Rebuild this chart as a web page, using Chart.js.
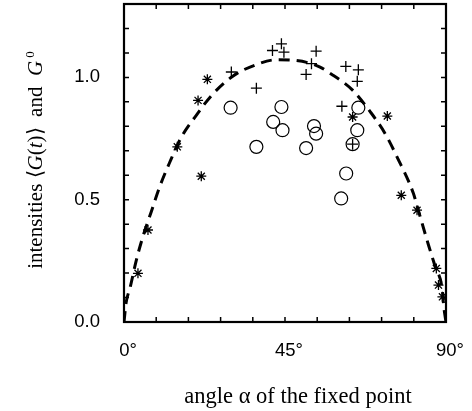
<!DOCTYPE html>
<html>
<head>
<meta charset="utf-8">
<script src="https://cdn.jsdelivr.net/npm/chart.js@4.4.1/dist/chart.umd.min.js"></script>
<style>
    html, body { margin: 0; padding: 0; background: #fff; }
    #wrap { width: 472px; height: 411px; }
</style>
</head>
<body>
<div id="wrap"><canvas id="chart" width="472" height="411"></canvas></div>
<script>
// =====================
// DATA
// =====================
// asterisks
const starAngle = [3.9, 6.7, 14.9, 20.7, 21.6, 23.3, 63.9, 73.6, 77.5, 81.9, 87.3, 87.9, 89.0];
const starValue = [0.199, 0.376, 0.716, 0.906, 0.596, 0.992, 0.838, 0.842, 0.518, 0.457, 0.219, 0.151, 0.103];

// plus signs
const plusAngle = [30.0, 37.0, 41.5, 44.0, 44.7, 50.9, 52.4, 53.7, 60.9, 62.0, 63.9, 65.2, 65.5];
const plusValue = [1.022, 0.956, 1.110, 1.137, 1.103, 1.012, 1.056, 1.107, 0.882, 1.045, 0.727, 0.984, 1.031];

// open circles
const circleAngle = [29.8, 37.0, 41.7, 44.0, 44.3, 50.9, 53.1, 53.7, 60.7, 62.1, 63.9, 65.2, 65.5];
const circleValue = [0.876, 0.716, 0.818, 0.879, 0.784, 0.711, 0.801, 0.770, 0.505, 0.607, 0.727, 0.784, 0.876];

// dashed curve G0
const curveAngle = [0, 0.6, 1.7, 3.4, 5.3, 7.6, 9.9, 12.7, 16.0, 20.2, 24.4, 30.4, 36.6, 42.6,
    47.3, 51.4, 54.8, 58.1, 61.3, 64.1, 68.8, 73.0, 76.3, 80.9, 82.0, 85.1, 87.0, 88.9, 89.4, 90];
const curveValue = [0, 0.08, 0.14, 0.25, 0.35, 0.45, 0.55, 0.65, 0.755, 0.845, 0.925, 1.005, 1.05, 1.072,
    1.07, 1.06, 1.042, 1.012, 0.98, 0.945, 0.86, 0.77, 0.675, 0.525, 0.47, 0.315, 0.226, 0.138, 0.06, 0];

const xTicks = [0, 45, 90];
const yTicks = [0, 0.5, 1.0];

function toPoints(xs, ys) {
    return xs.map((x, i) => ({ x: x, y: ys[i] }));
}

// =====================
// FRAME, INWARD TICKS, AXIS TITLES
// =====================
const framePlugin = {
    id: "frame",
    afterDraw(chart) {
        const ctx = chart.ctx;
        const a = chart.chartArea;
        const xs = chart.scales.x;
        const ys = chart.scales.y;
        const tl = 5;

        ctx.save();
        ctx.strokeStyle = "#000";
        ctx.lineWidth = 1.5;
        ctx.beginPath();
        for (let v = 0; v <= 90; v += 9) {
            const px = xs.getPixelForValue(v);
            ctx.moveTo(px, a.bottom); ctx.lineTo(px, a.bottom - tl);
            ctx.moveTo(px, a.top); ctx.lineTo(px, a.top + tl);
        }
        for (let k = 0; k <= 12; k++) {
            const py = ys.getPixelForValue(k / 10);
            ctx.moveTo(a.left, py); ctx.lineTo(a.left + tl, py);
            ctx.moveTo(a.right, py); ctx.lineTo(a.right - tl, py);
        }
        ctx.stroke();

        ctx.lineWidth = 2.2;
        ctx.strokeRect(a.left, a.top, a.right - a.left, a.bottom - a.top);

        // x title
        ctx.fillStyle = "#000";
        ctx.font = "22.5px 'Liberation Serif', 'Times New Roman', serif";
        ctx.textAlign = "center";
        ctx.textBaseline = "alphabetic";
        ctx.fillText("angle α of the fixed point", 298, 403);

        // y title, mixed upright / italic pieces
        const reg = "21px 'Liberation Serif', serif";
        const ita = "italic 21px 'Liberation Serif', serif";
        const sup = "13px 'Liberation Serif', serif";
        const parts = [
            ["intensities ", reg, 0],
            ["\u27E8", reg, 0],
            ["G", ita, 0],
            ["(", reg, 0],
            ["t", ita, 0],
            [")", reg, 0],
            ["\u27E9", reg, 0],
            ["  and  ", reg, 0],
            ["G", ita, 0],
            [" 0", sup, -8]
        ];
        let total = 0;
        parts.forEach(p => { ctx.font = p[1]; total += ctx.measureText(p[0]).width; });
        ctx.translate(42, 160);
        ctx.rotate(-Math.PI / 2);
        ctx.textAlign = "left";
        let cx = -total / 2;
        parts.forEach(p => {
            ctx.font = p[1];
            ctx.fillText(p[0], cx, p[2]);
            cx += ctx.measureText(p[0]).width;
        });
        ctx.restore();
    }
};

// =====================
// CHART
// =====================
const ctx = document.getElementById("chart");
new Chart(ctx, {
    type: "scatter",
    data: {
        datasets: [
            {
                label: "G0",
                type: "line",
                data: toPoints(curveAngle, curveValue),
                borderColor: "#000",
                borderWidth: 3,
                borderDash: [11, 7],
                cubicInterpolationMode: "monotone",
                pointRadius: 0,
                fill: false
            },
            {
                label: "stars",
                data: toPoints(starAngle, starValue),
                pointStyle: "star",
                pointRadius: 5,
                borderColor: "#000",
                borderWidth: 1.3,
                backgroundColor: "transparent"
            },
            {
                label: "plus",
                data: toPoints(plusAngle, plusValue),
                pointStyle: "cross",
                pointRadius: 5.5,
                borderColor: "#000",
                borderWidth: 1.3,
                backgroundColor: "transparent"
            },
            {
                label: "circles",
                data: toPoints(circleAngle, circleValue),
                pointStyle: "circle",
                pointRadius: 6.5,
                borderColor: "#000",
                borderWidth: 1.2,
                backgroundColor: "transparent"
            }
        ]
    },
    options: {
        responsive: false,
        animation: false,
        layout: { autoPadding: false, padding: { top: 4, right: 26, left: 0, bottom: 0 } },
        plugins: {
            legend: { display: false },
            tooltip: { enabled: false }
        },
        scales: {
            x: {
                type: "linear",
                min: 0,
                max: 90,
                grid: { display: false, drawTicks: false },
                border: { display: false },
                afterBuildTicks: s => { s.ticks = xTicks.map(v => ({ value: v })); },
                afterFit: s => {
                    s.height = 89;
                    s.paddingLeft = 0; s.paddingRight = 0;
                    s.paddingTop = 0; s.paddingBottom = 0;
                },
                ticks: {
                    color: "#000",
                    padding: 18,
                    labelOffset: 4,
                    maxRotation: 0,
                    font: { family: "'Liberation Sans', Arial, sans-serif", size: 18.5 },
                    callback: v => v + "°"
                }
            },
            y: {
                type: "linear",
                min: 0,
                max: 1.3,
                grid: { display: false, drawTicks: false },
                border: { display: false },
                afterBuildTicks: s => { s.ticks = yTicks.map(v => ({ value: v })); },
                afterFit: s => {
                    s.width = 124;
                    s.paddingLeft = 0; s.paddingRight = 0;
                    s.paddingTop = 0; s.paddingBottom = 0;
                },
                ticks: {
                    color: "#000",
                    padding: 24,
                    font: { family: "'Liberation Sans', Arial, sans-serif", size: 18.5 },
                    callback: v => v.toFixed(1)
                }
            }
        }
    },
    plugins: [framePlugin]
});
</script>
</body>
</html>
